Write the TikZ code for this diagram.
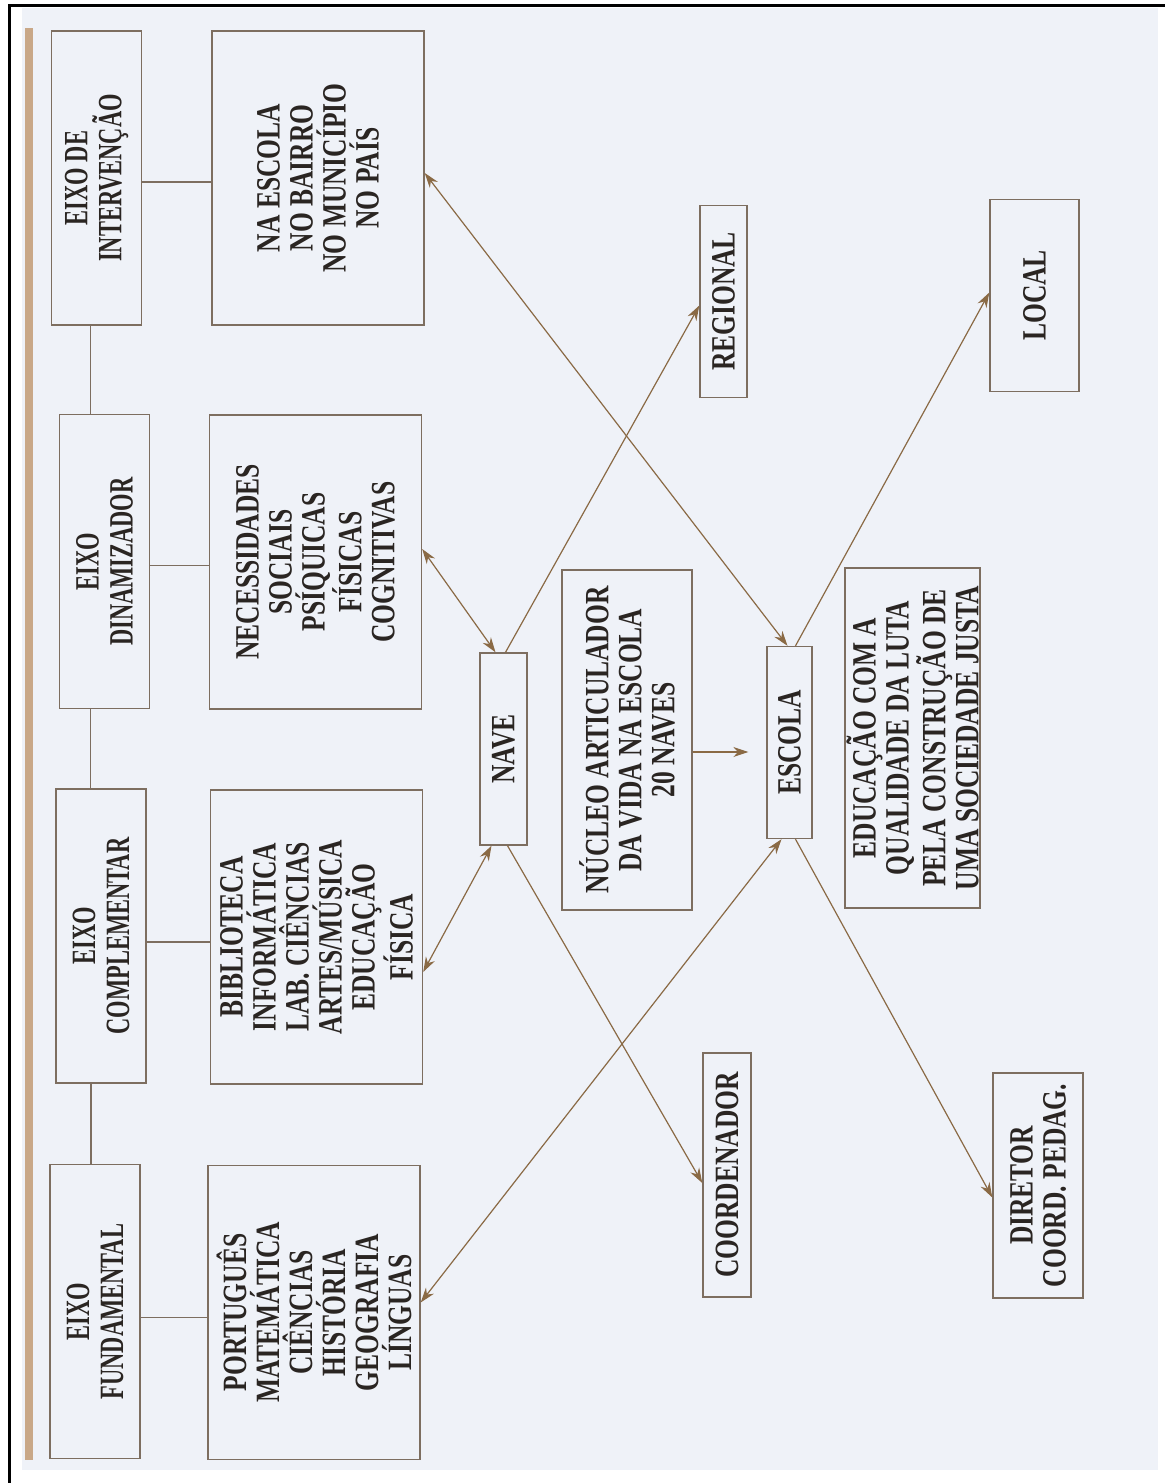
\documentclass[tikz,border=0pt]{standalone}
\usepackage{fontspec}
\setmainfont{Liberation Serif}[FakeStretch=0.75]
\newfontfamily\eixofont{Liberation Serif}[FakeStretch=0.66]
\usepackage{tikz}
\usetikzlibrary{arrows.meta}
\definecolor{ink}{HTML}{2A2522}
\definecolor{boxline}{HTML}{7D6E60}
\definecolor{arrowc}{HTML}{8A6A45}
\definecolor{paper}{HTML}{EFF2F8}
\definecolor{tanbar}{HTML}{C9A888}
\tikzset{>={Stealth[length=7.5pt,width=5pt]}}
\tikzstyle{box} = [draw=boxline, line width=0.7pt, rotate=90, align=center, inner sep=0pt, text=ink, font=\fontsize{17pt}{16.5pt}\selectfont\bfseries]
\tikzstyle{eixo} = [box, minimum width=147pt, minimum height=45pt, font=\fontsize{17pt}{17pt}\eixofont\bfseries]
\tikzstyle{lista} = [box, minimum width=147pt, minimum height=106pt]
\tikzstyle{tag} = [box, minimum width=96pt, minimum height=23.5pt]
\tikzstyle{link} = [draw=arrowc, line width=0.6pt]
\tikzstyle{tie} = [draw=boxline, line width=0.6pt]

\begin{document}
\begin{tikzpicture}[x=0.5pt,y=-0.5pt]
\useasboundingbox (0,0) rectangle (1165,1483);
\fill[white] (0,0) rectangle (1165,1483);
\fill[paper] (22,8) rectangle (1158,1470);
\fill[tanbar] (25,28) rectangle (33,1460);
\draw[line width=1.5pt] (9,1483) -- (9,5) -- (1165,5);

% eixos
\node[eixo] (eint) at (96.5,178) {EIXO DE\\INTERVENÇÃO};
\node[eixo] (edin) at (104.5,561.5) {EIXO\\DINAMIZADOR};
\node[eixo] (ecom) at (101,936) {EIXO\\COMPLEMENTAR};
\node[eixo] (efun) at (95,1311.5) {EIXO\\FUNDAMENTAL};

\node[lista] (lint) at (318,178) {NA ESCOLA\\NO BAIRRO\\NO MUNICÍPIO\\NO PAÍS};
\node[lista] (ldin) at (315.5,562) {NECESSIDADES\\SOCIAIS\\PSÍQUICAS\\FÍSICAS\\COGNITIVAS};
\node[lista] (lcom) at (316.5,937) {BIBLIOTECA\\INFORMÁTICA\\LAB. CIÊNCIAS\\ARTES/MÚSICA\\EDUCAÇÃO\\FÍSICA};
\node[lista] (lfun) at (314,1312.5) {PORTUGUÊS\\MATEMÁTICA\\CIÊNCIAS\\HISTÓRIA\\GEOGRAFIA\\LÍNGUAS};

% centro
\node[tag] (nave) at (503.5,749) {NAVE};
\node[box, minimum width=170pt, minimum height=65pt] (nucleo) at (627,740) {NÚCLEO ARTICULADOR\\DA VIDA NA ESCOLA\\20 NAVES};
\node[tag, minimum height=22.5pt] (escola) at (789.5,742.5) {ESCOLA};
\node[box, minimum width=170pt, minimum height=67.5pt] (educ) at (912.5,738) {EDUCAÇÃO COM A\\QUALIDADE DA LUTA\\PELA CONSTRUÇÃO DE\\UMA SOCIEDADE JUSTA};

\node[tag] (regional) at (723.5,301.5) {REGIONAL};
\node[tag, minimum height=44.5pt] (local) at (1034.5,295.5) {LOCAL};
\node[tag, minimum width=122pt, minimum height=24pt] (coord) at (727,1175) {COORDENADOR};
\node[tag, minimum width=112.5pt, minimum height=45pt] (diretor) at (1038,1185.5) {DIRETOR\\COORD. PEDAG.};

% ligacoes dos eixos
\draw[tie] ([yshift=-2pt]eint.south) -- ([yshift=-2pt]eint.south -| lint.north);
\draw[tie] ([yshift=-2pt]edin.south) -- ([yshift=-2pt]edin.south -| ldin.north);
\draw[tie] ([yshift=-3pt]ecom.south) -- ([yshift=-3pt]ecom.south -| lcom.north);
\draw[tie] ([yshift=-3pt]efun.south) -- ([yshift=-3pt]efun.south -| lfun.north);
\draw[tie] ([xshift=-3pt]eint.west) -- ([xshift=-3pt]eint.west |- edin.east);
\draw[tie] ([xshift=-7pt]edin.west) -- ([xshift=-7pt]edin.west |- ecom.east);
\draw[tie] ([xshift=-5pt]ecom.west) -- ([xshift=-5pt]ecom.west |- efun.east);

% setas
\draw[link, <->] ([yshift=6.5pt]ldin.south) -- ([xshift=-4pt]nave.east);
\draw[link, <->] ([yshift=-17.5pt]lcom.south) -- ([xshift=-6pt]nave.west);
\draw[link, ->] ([xshift=1pt]nave.east) -- ([yshift=-2pt]regional.north);
\draw[link, ->] ([xshift=2pt]nave.west) -- ([yshift=-4pt]coord.north);
\draw[link, <->] ([yshift=2.5pt]lint.south) -- ([xshift=-1pt]escola.east);
\draw[link, ->] ([xshift=3pt]escola.east) -- ([yshift=1.5pt]local.north);
\draw[link, <->] ([yshift=5pt]lfun.south) -- ([xshift=-4pt]escola.west);
\draw[link, ->] ([xshift=3pt]escola.west) -- ([yshift=-6pt]diretor.north);
\draw[link, ->, shorten >=9pt] ([yshift=-6pt]nucleo.south) -- ([yshift=-6pt]nucleo.south -| escola.north);
\end{tikzpicture}
\end{document}
